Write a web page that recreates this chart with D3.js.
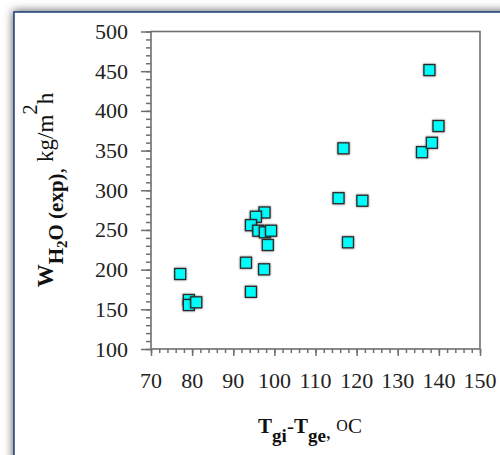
<!DOCTYPE html>
<html lang="en">
<head>
<meta charset="UTF-8">
<title>W H2O vs Tgi-Tge</title>
<style>
  body { margin: 0; background: #fff; }
  svg { display: block; }
  text { font-family: "Liberation Serif", "Times New Roman", serif; fill: #111; }
</style>
</head>
<body>
<div id="chart"></div>
<script src="https://cdn.jsdelivr.net/npm/d3@7"></script>
<script>
// data
var tDiff = [77.1, 79.2, 79.2, 81.0, 93.1, 94.3, 97.5, 97.6, 95.5, 94.3, 96.1, 97.7, 99.2, 98.4,
             115.6, 116.8, 117.9, 121.4, 135.9, 137.7, 138.3, 139.9];
var wH2O  = [194.5, 161.7, 155.4, 158.8, 208.7, 172, 200.4, 272, 266.6, 256, 249, 247, 249, 231,
             290, 352.8, 234.4, 286.8, 348, 451.4, 359.8, 380.9];
var xTicks = [70, 80, 90, 100, 110, 120, 130, 140, 150];
var yTicks = [100, 150, 200, 250, 300, 350, 400, 450, 500];

var width = 500, height = 455;
var plotL = 151, plotR = 480, plotT = 31.5, plotB = 349;

var svg = d3.select('#chart').append('svg')
  .attr('width', width).attr('height', height);

var defs = svg.append('defs');
var blur = defs.append('filter').attr('id', 'panelShadow')
  .attr('x', '-20%').attr('y', '-20%').attr('width', '140%').attr('height', '140%');
blur.append('feGaussianBlur').attr('stdDeviation', 5);

var ms = defs.append('filter').attr('id', 'markShadow')
  .attr('x', '-50%').attr('y', '-50%').attr('width', '200%').attr('height', '200%');
ms.append('feGaussianBlur').attr('in', 'SourceAlpha').attr('stdDeviation', 1.3).attr('result', 'b');
ms.append('feComponentTransfer').attr('in', 'b').attr('result', 'c')
  .append('feFuncA').attr('type', 'linear').attr('slope', 0.55);
var mm = ms.append('feMerge');
mm.append('feMergeNode').attr('in', 'c');
mm.append('feMergeNode').attr('in', 'SourceGraphic');

// panel with soft shadow
svg.append('rect').attr('x', 13).attr('y', 11).attr('width', 530).attr('height', 490)
  .attr('fill', '#555').attr('filter', 'url(#panelShadow)');
svg.append('rect').attr('x', 14).attr('y', 12).attr('width', 520).attr('height', 480)
  .attr('fill', '#fff').attr('stroke', '#1c3d7a').attr('stroke-width', 1.5);

var x = d3.scaleLinear().domain([70, 150]).range([plotL, plotR]);
var y = d3.scaleLinear().domain([100, 500]).range([plotB, plotT]);

var axisColor = '#6f6f6f';

// minor ticks
svg.append('g').attr('transform', 'translate(' + plotL + ',0)')
  .call(d3.axisLeft(y).tickValues(d3.range(100, 501, 10)).tickSize(5).tickFormat(''));
svg.append('g').attr('transform', 'translate(0,' + plotB + ')')
  .call(d3.axisBottom(x).tickValues(d3.range(70, 151, 2)).tickSize(4).tickFormat(''));

// major ticks
svg.append('g').attr('transform', 'translate(' + plotL + ',0)')
  .call(d3.axisLeft(y).tickValues(yTicks).tickSize(10).tickFormat(''));
svg.append('g').attr('transform', 'translate(0,' + plotB + ')')
  .call(d3.axisBottom(x).tickValues(xTicks).tickSize(7).tickFormat(''));

svg.selectAll('.domain').remove();
svg.selectAll('.tick line').attr('stroke', axisColor).attr('stroke-width', 1.5);

// tick labels
svg.append('g').selectAll('text')
  .data(yTicks).enter().append('text')
  .attr('x', plotL - 23).attr('y', function (d) { return y(d) + 7.5; })
  .attr('text-anchor', 'end')
  .style('font-size', '22px').style('fill', '#222')
  .text(function (d) { return d; });
svg.append('g').selectAll('text')
  .data(xTicks).enter().append('text')
  .attr('x', function (d) { return x(d); }).attr('y', plotB + 39)
  .attr('text-anchor', 'middle')
  .style('font-size', '22px').style('fill', '#222')
  .text(function (d) { return d; });

// frame
svg.append('rect').attr('x', plotL).attr('y', plotT)
  .attr('width', plotR - plotL).attr('height', plotB - plotT)
  .attr('fill', 'none').attr('stroke', axisColor).attr('stroke-width', 1.6);

// points
svg.append('g').selectAll('rect')
  .data(d3.range(tDiff.length))
  .enter().append('rect')
  .attr('x', function (i) { return x(tDiff[i]) - 5.5; })
  .attr('y', function (i) { return y(wH2O[i]) - 5.5; })
  .attr('width', 11).attr('height', 11)
  .attr('fill', '#00fbfb').attr('stroke', '#2a2a2a').attr('stroke-width', 1.3)
  .attr('filter', 'url(#markShadow)');

// y title
var yt = svg.append('text')
  .attr('transform', 'translate(53,190) rotate(-90)')
  .attr('text-anchor', 'middle')
  .style('font-size', '23px');
yt.append('tspan').attr('font-weight', 'bold').text('W');
yt.append('tspan').attr('font-weight', 'bold').attr('dy', 10).style('font-size', '21px').text('H');
yt.append('tspan').attr('font-weight', 'bold').attr('dy', 4).style('font-size', '15px').text('2');
yt.append('tspan').attr('font-weight', 'bold').attr('dy', -4).style('font-size', '21px').text('O (exp)');
yt.append('tspan').text(',');
yt.append('tspan').attr('dy', -10).text(' kg/m');
yt.append('tspan').attr('dy', -16).style('font-size', '21px').text('2');
yt.append('tspan').attr('dy', 16).text('h');

// x title
var xt = svg.append('text')
  .attr('x', 310).attr('y', 433)
  .attr('text-anchor', 'middle')
  .style('font-size', '21px');
xt.append('tspan').attr('font-weight', 'bold').text('T');
xt.append('tspan').attr('font-weight', 'bold').attr('dy', 9).style('font-size', '19px').text('gi');
xt.append('tspan').attr('dy', -9).text('-');
xt.append('tspan').attr('font-weight', 'bold').text('T');
xt.append('tspan').attr('font-weight', 'bold').attr('dy', 9).style('font-size', '19px').text('ge');
xt.append('tspan').attr('dy', -4).text(', ');
xt.append('tspan').attr('dy', -7).style('font-size', '16px').text('O');
xt.append('tspan').attr('dy', 2).text('C');
</script>
</body>
</html>
